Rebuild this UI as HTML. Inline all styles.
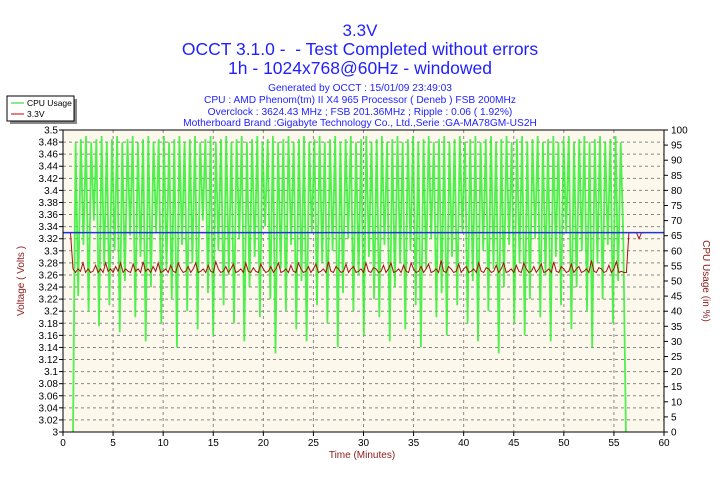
<!DOCTYPE html>
<html><head><meta charset="utf-8"><style>
body{margin:0;background:#fff;font-family:"Liberation Sans",sans-serif}
</style></head><body>
<svg id="c" width="720" height="480" xmlns="http://www.w3.org/2000/svg" style="display:block">
<rect width="720" height="480" fill="#fff"/>
<g fill="#1f1fff" text-anchor="middle" font-family="Liberation Sans, sans-serif">
<text x="360" y="36" font-size="17">3.3V</text>
<text x="360" y="55" font-size="17.5">OCCT 3.1.0 -&#160; - Test Completed without errors</text>
<text x="360" y="74" font-size="17.5">1h - 1024x768@60Hz - windowed</text>
<text x="360" y="91" font-size="10.2">Generated by OCCT : 15/01/09 23:49:03</text>
<text x="360" y="103" font-size="10.2">CPU : AMD Phenom(tm) II X4 965 Processor ( Deneb ) FSB 200MHz</text>
<text x="360" y="115" font-size="10.2">Overclock : 3624.43 MHz ; FSB 201.36MHz ; Ripple : 0.06 ( 1.92%)</text>
<text x="360" y="126" font-size="10.2">Motherboard Brand :Gigabyte Technology Co., Ltd.,Serie :GA-MA78GM-US2H</text>
</g>
<g>
<rect x="10" y="99" width="67" height="25" fill="#888"/>
<rect x="7" y="96" width="67" height="25" fill="#fff" stroke="#000" stroke-width="1"/>
<line x1="11" y1="103" x2="24" y2="103" stroke="#22cc22"/>
<text x="27" y="106" font-size="8.5">CPU Usage</text>
<line x1="11" y1="114" x2="24" y2="114" stroke="#cc0000"/>
<text x="27" y="117" font-size="8.5">3.3V</text>
</g>
<rect x="63" y="130" width="601" height="302" fill="#fdf8ec"/>
<g id="grid"></g>
<g id="series"></g>
<rect x="63" y="130" width="601" height="302" fill="none" stroke="#000"/>
<g id="axes" font-size="10" fill="#000"></g>
<text x="362" y="458" font-size="10" fill="#8b1a1a" text-anchor="middle">Time (Minutes)</text>
<text transform="translate(24,281) rotate(-90)" font-size="10" fill="#8b1a1a" text-anchor="middle">Voltage ( Volts )</text>
<text transform="translate(703,281) rotate(90)" font-size="10" fill="#8b1a1a" text-anchor="middle">CPU Usage (in %)</text>
</svg>
<script>
const xTicks=[0,5,10,15,20,25,30,35,40,45,50,55,60];
const vTicks=[3,3.02,3.04,3.06,3.08,3.1,3.12,3.14,3.16,3.18,3.2,3.22,3.24,3.26,3.28,3.3,3.32,3.34,3.36,3.38,3.4,3.42,3.44,3.46,3.48,3.5];
const cpuTicks=[0,5,10,15,20,25,30,35,40,45,50,55,60,65,70,75,80,85,90,95,100];
const refVoltage=3.33;
const cpuStart=1.0, cpuEnd=56.2;
const cpuValues=[0,96,45,97,62,98,40,96,70,97,35,98,55,96,42,97,60,98,33,96,50,97,65,98,38,96,58,97,30,98,48,96,66,97,36,98,54,96,44,97,28,98,62,96,40,97,56,98,34,96,70,97,46,98,32,96,60,97,42,98,52,96,36,97,64,98,30,96,48,97,58,98,38,96,68,97,44,98,26,96,54,97,40,98,62,96,34,97,50,98,30,96,66,97,42,98,56,96,36,97,60,98,28,96,46,97,64,98,40,96,52,97,32,98,58,96,44,97,38,98,62,96,30,97,48,98,56,96,34,97,60,98,42,96,28,97,54,98,64,96,38,97,46,98,32,96,58,97,42,98,66,96,36,97,50,98,30,96,60,97,40,98,54,96,26,97,48,98,62,96,36,97,56,98,32,96,44,97,64,98,38,96,52,97,30,98,58,96,42,97,66,98,34,96,48,97,60,98,40,96,28,97,56,98,44,96,62,97,36,98,50,96,64,0];
const voltStart=0, voltStep=0.25;
const voltValues=[3.33,3.33,3.33,3.33,3.27,3.264,3.27,3.266,3.28,3.264,3.27,3.264,3.266,3.276,3.264,3.27,3.264,3.28,3.266,3.27,3.264,3.274,3.266,3.28,3.264,3.27,3.266,3.264,3.278,3.266,3.27,3.264,3.282,3.266,3.27,3.264,3.274,3.266,3.28,3.264,3.266,3.27,3.264,3.276,3.266,3.264,3.28,3.27,3.264,3.266,3.274,3.264,3.27,3.28,3.264,3.266,3.27,3.264,3.276,3.266,3.264,3.282,3.27,3.264,3.266,3.274,3.264,3.27,3.278,3.264,3.266,3.27,3.264,3.28,3.266,3.264,3.272,3.266,3.264,3.278,3.27,3.264,3.266,3.274,3.264,3.27,3.28,3.264,3.266,3.27,3.264,3.276,3.266,3.264,3.28,3.27,3.264,3.266,3.274,3.264,3.27,3.278,3.264,3.266,3.27,3.264,3.282,3.266,3.264,3.274,3.27,3.264,3.266,3.278,3.264,3.27,3.274,3.264,3.266,3.27,3.264,3.28,3.266,3.264,3.272,3.27,3.264,3.266,3.276,3.264,3.27,3.28,3.264,3.266,3.27,3.264,3.276,3.266,3.264,3.28,3.27,3.264,3.266,3.274,3.264,3.27,3.278,3.264,3.266,3.27,3.264,3.284,3.266,3.264,3.274,3.27,3.264,3.266,3.278,3.264,3.27,3.274,3.264,3.266,3.27,3.264,3.28,3.266,3.264,3.272,3.27,3.264,3.266,3.276,3.264,3.27,3.28,3.264,3.266,3.27,3.264,3.276,3.266,3.264,3.28,3.27,3.264,3.266,3.274,3.264,3.27,3.278,3.264,3.266,3.27,3.264,3.282,3.266,3.264,3.274,3.27,3.264,3.266,3.278,3.264,3.27,3.274,3.264,3.266,3.27,3.264,3.284,3.266,3.264,3.272,3.27,3.264,3.266,3.276,3.264,3.27,3.282,3.264,3.266,3.264,3.264,3.33,3.33,3.33,3.33,3.32,3.33,3.33];
const NS="http://www.w3.org/2000/svg";
const X0=63,X1=664,Y0=432,Y1=130;
const xs=t=>X0+(t-0)/(60-0)*(X1-X0);
const yv=v=>Y0-(v-3)/(3.5-3)*(Y0-Y1);
const yc=c=>Y0-c/100*(Y0-Y1);
function mk(tag,attrs,parent){const e=document.createElementNS(NS,tag);for(const k in attrs)e.setAttribute(k,attrs[k]);parent.appendChild(e);return e;}
const grid=document.getElementById('grid'),axes=document.getElementById('axes'),series=document.getElementById('series');
vTicks.forEach(v=>{const y=yv(v);
 if(v>3&&v<3.5){const l=mk('line',{x1:X0,x2:X1,y1:y,y2:y,stroke:'#888','stroke-dasharray':'3,3'},grid);
 
 }
 const tk=mk('line',{x1:X0-4,x2:X0,y1:y,y2:y,stroke:'#000'},axes);
 
 
 const t=mk('text',{x:X0-5,y:y+3.5,'text-anchor':'end'},axes);t.textContent=String(v);
 
 });
cpuTicks.forEach(c=>{const y=yc(c);
 const tk=mk('line',{x1:X1,x2:X1+4,y1:y,y2:y,stroke:'#000'},axes);
 
 
 const t=mk('text',{x:X1+7,y:y+3.5},axes);t.textContent=String(c);
 
 });
xTicks.forEach(v=>{const x=xs(v);
 if(v>0&&v<60){const l=mk('line',{x1:x,x2:x,y1:Y1,y2:Y0,stroke:'#888','stroke-dasharray':'3,3'},grid);
 
 }
 const tk=mk('line',{x1:x,x2:x,y1:Y0,y2:Y0+4,stroke:'#000'},axes);
 
 
 const t=mk('text',{x:x,y:Y0+14,'text-anchor':'middle'},axes);t.textContent=String(v);
 
 });
const cpuStep=(cpuEnd-cpuStart)/(cpuValues.length-1);
const cp=mk('polyline',{points:cpuValues.map((c,i)=>xs(cpuStart+i*cpuStep).toFixed(1)+','+yc(c).toFixed(1)).join(' '),fill:'none',stroke:'#33ee33','stroke-width':1.8,'stroke-opacity':0.85},series);


const vp=mk('polyline',{points:voltValues.map((v,i)=>xs(voltStart+i*voltStep).toFixed(1)+','+yv(v).toFixed(1)).join(' '),fill:'none',stroke:'#aa1111','stroke-width':1},series);


const rl=mk('line',{x1:X0,x2:X1,y1:yv(refVoltage),y2:yv(refVoltage),stroke:'#2233dd','stroke-width':1.5},series);


</script>
</body></html>
